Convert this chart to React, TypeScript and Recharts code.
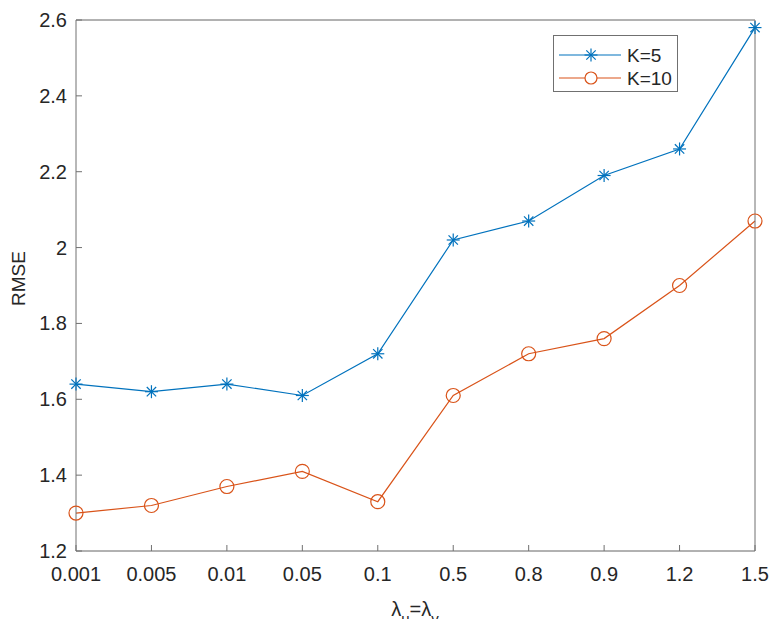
import { CartesianGrid, Line, LineChart, XAxis, YAxis } from "recharts";

const lambdas = ["0.001", "0.005", "0.01", "0.05", "0.1", "0.5", "0.8", "0.9", "1.2", "1.5"];
const rmseK5 = [1.64, 1.62, 1.64, 1.61, 1.72, 2.02, 2.07, 2.19, 2.26, 2.58];
const rmseK10 = [1.3, 1.32, 1.37, 1.41, 1.33, 1.61, 1.72, 1.76, 1.9, 2.07];
const yTicks = [1.2, 1.4, 1.6, 1.8, 2, 2.2, 2.4, 2.6];

const data = lambdas.map((name, i) => ({ name, k5: rmseK5[i], k10: rmseK10[i] }));

const BLUE = "#0072BD";
const ORANGE = "#D95319";
const TEXT = "#262626";
const AXIS = "#707070";
const FONT = "'Liberation Sans', Arial, Helvetica, sans-serif";

function Star({ cx, cy, color }: any) {
  const r = 6.5;
  const d = r * 0.72;
  return (
    <g stroke={color} strokeWidth={1.2}>
      <line x1={cx - r} y1={cy} x2={cx + r} y2={cy} />
      <line x1={cx} y1={cy - r} x2={cx} y2={cy + r} />
      <line x1={cx - d} y1={cy - d} x2={cx + d} y2={cy + d} />
      <line x1={cx - d} y1={cy + d} x2={cx + d} y2={cy - d} />
    </g>
  );
}

function StarDot(props: any) {
  const { cx, cy } = props;
  if (cx == null || cy == null) return <g />;
  return <Star cx={cx} cy={cy} color={BLUE} />;
}

function CircleDot(props: any) {
  const { cx, cy } = props;
  if (cx == null || cy == null) return <g />;
  return <circle cx={cx} cy={cy} r={7} fill="none" stroke={ORANGE} strokeWidth={1.2} />;
}

function BottomTick({ x, y, payload }: any) {
  return (
    <text x={x} y={y} dy={19} textAnchor="middle" fontSize={20} fill={TEXT} fontFamily={FONT}>
      {payload.value}
    </text>
  );
}

function LeftTick({ x, y, payload }: any) {
  return (
    <text x={x} y={y} dy={7} textAnchor="end" fontSize={20} fill={TEXT} fontFamily={FONT}>
      {payload.value}
    </text>
  );
}

function LegendBox() {
  const row = (label: string, color: string, y: number, marker: "star" | "circle") => (
    <g>
      <line x1={6} y1={y} x2={68} y2={y} stroke={color} strokeWidth={1.2} />
      {marker === "star" ? (
        <Star cx={38} cy={y} color={color} />
      ) : (
        <circle cx={38} cy={y} r={6} fill="#fff" stroke={color} strokeWidth={1.2} />
      )}
      <text x={74} y={y + 7} fontSize={19} fill={TEXT} fontFamily={FONT}>
        {label}
      </text>
    </g>
  );
  return (
    <svg width={126} height={58} style={{ position: "absolute", left: 553, top: 35 }}>
      <rect x={0.5} y={0.5} width={124} height={56} fill="#fff" stroke={AXIS} strokeWidth={1} />
      {row("K=5", BLUE, 20, "star")}
      {row("K=10", ORANGE, 43, "circle")}
    </svg>
  );
}

function XLabel() {
  return (
    <text x={415} y={616} textAnchor="middle" fontSize={20} fill={TEXT} fontFamily={FONT}>
      λ
      <tspan fontSize={15} dy={8}>u</tspan>
      <tspan dy={-8}>=λ</tspan>
      <tspan fontSize={15} dy={8}>v</tspan>
    </text>
  );
}

export default function App() {
  return (
    <div style={{ position: "absolute", left: 0, top: 0, width: 769, height: 619, background: "#fff" }}>
      <LineChart
        width={769}
        height={619}
        data={data}
        margin={{ top: 10, right: 10, left: 26, bottom: 38 }}
      >
        <CartesianGrid vertical={false} stroke="#e6e6e6" strokeWidth={1} />
        <XAxis
          dataKey="name"
          xAxisId="bottom"
          height={30}
          interval={0}
          stroke={AXIS}
          tickSize={-6}
          tickMargin={17}
          tick={<BottomTick />}
          label={<XLabel />}
        />
        <XAxis
          dataKey="name"
          xAxisId="top"
          orientation="top"
          height={10}
          interval={0}
          stroke={AXIS}
          tickSize={-6}
          tick={false}
        />
        <YAxis
          yAxisId="left"
          domain={[1.2, 2.6]}
          ticks={yTicks}
          width={50}
          stroke={AXIS}
          tickSize={-6}
          tickMargin={15}
          tick={<LeftTick />}
          label={{
            value: "RMSE",
            angle: -90,
            position: "insideLeft",
            dx: -13,
            dy: -7,
            style: { textAnchor: "middle", fill: TEXT, fontSize: 19, fontFamily: FONT },
          }}
        />
        <YAxis
          yAxisId="right"
          orientation="right"
          domain={[1.2, 2.6]}
          ticks={yTicks}
          width={4}
          stroke={AXIS}
          tickSize={-6}
          tick={false}
        />
        <Line
          xAxisId="bottom"
          yAxisId="left"
          dataKey="k5"
          name="K=5"
          stroke={BLUE}
          strokeWidth={1.2}
          dot={<StarDot />}
          activeDot={false}
          isAnimationActive={false}
        />
        <Line
          xAxisId="bottom"
          yAxisId="left"
          dataKey="k10"
          name="K=10"
          stroke={ORANGE}
          strokeWidth={1.2}
          dot={<CircleDot />}
          activeDot={false}
          isAnimationActive={false}
        />
      </LineChart>
      <LegendBox />
    </div>
  );
}
